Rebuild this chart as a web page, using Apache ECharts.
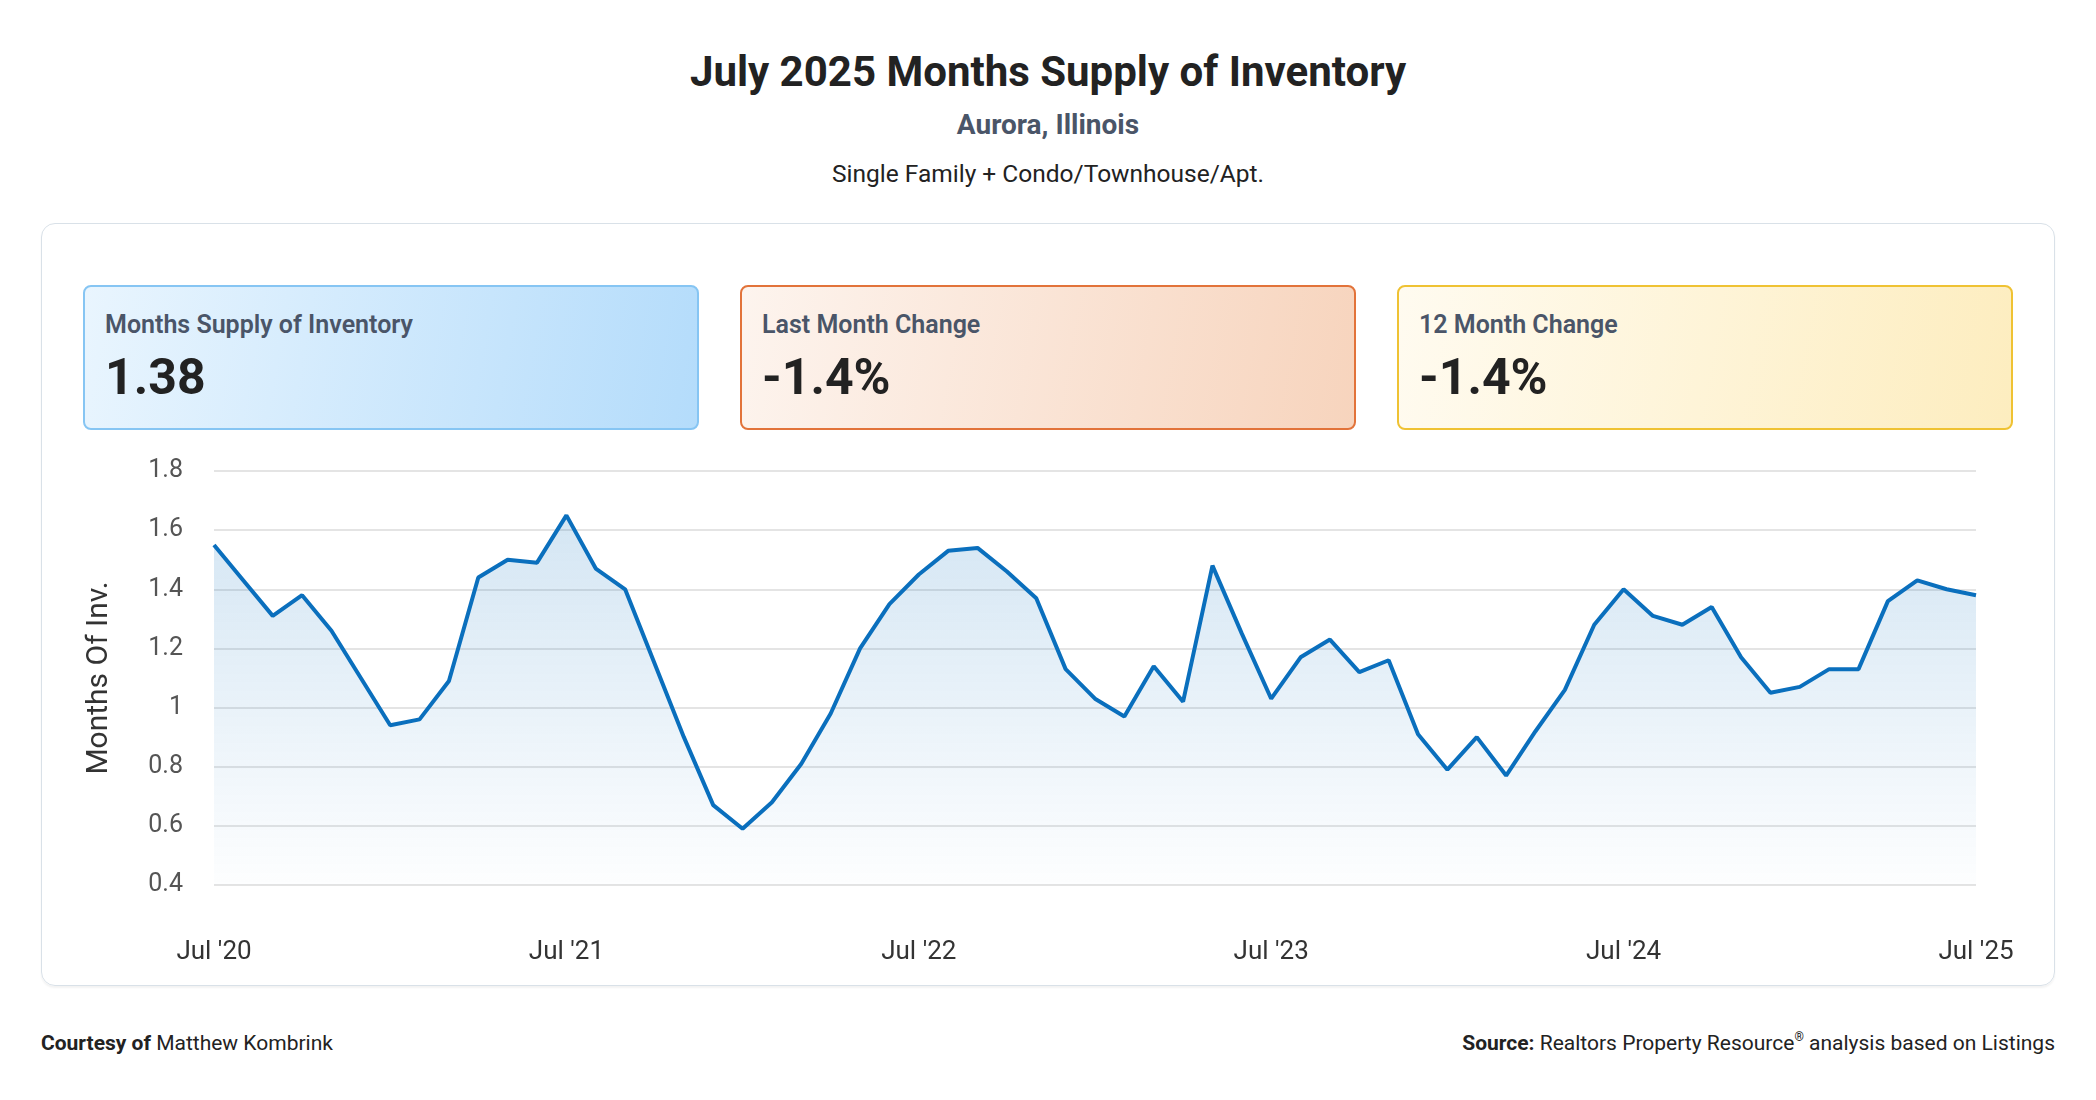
<!DOCTYPE html>
<html>
<head>
<meta charset="utf-8">
<title>July 2025 Months Supply of Inventory</title>
<script src="https://cdn.jsdelivr.net/npm/echarts@6/dist/echarts.min.js"></script>
<style>
  html, body { margin: 0; padding: 0; background: #fff; }
  body { width: 2096px; height: 1100px; position: relative; font-family: Roboto, "Noto Sans", sans-serif; color: #222; overflow: hidden; }
  .abs { position: absolute; }
  #title { left: 0; width: 2096px; top: 48px; text-align: center; font-size: 42px; font-weight: 700; color: #222; line-height: 48px; }
  #place { left: 0; width: 2096px; top: 108px; text-align: center; font-size: 28px; font-weight: 700; color: #4a5568; line-height: 34px; }
  #subtitle { left: 0; width: 2096px; top: 158px; text-align: center; font-size: 24.5px; color: #222; line-height: 32px; }
  #panel { left: 41px; top: 223px; width: 2012px; height: 761px; border: 1.5px solid #d9e1e8; border-radius: 14px; box-shadow: 0 2px 2px rgba(0,0,0,0.05); }
  .card { top: 285px; width: 612px; height: 141px; border-radius: 8px; border: 2px solid; box-sizing: content-box; }
  .card .lbl { position: absolute; left: 20px; top: 23px; font-size: 25px; font-weight: 600; color: #4a5568; }
  .card .val { position: absolute; left: 20px; top: 61px; font-size: 50px; font-weight: 700; color: #222; }
  #c1 { left: 83px; border-color: #86c5f3; background: linear-gradient(100deg, #e9f5fe 0%, #b4dcfb 100%); }
  #c2 { left: 740px; border-color: #e2733a; background: linear-gradient(100deg, #fdf4ee 0%, #f7d4bd 100%); }
  #c3 { left: 1397px; border-color: #efc233; background: linear-gradient(100deg, #fffbf0 0%, #fdedbf 100%); }
  #chart { left: 41px; top: 440px; width: 2014px; height: 540px; }
  .foot { top: 1029px; font-size: 21px; color: #222; line-height: 28px; }
  #courtesy { left: 41px; }
  #source { right: 41px; text-align: right; }
  sup { font-size: 12px; position: relative; top: -9px; vertical-align: baseline; line-height: 0; }
</style>
</head>
<body>
<div id="title" class="abs">July 2025 Months Supply of Inventory</div>
<div id="place" class="abs">Aurora, Illinois</div>
<div id="subtitle" class="abs">Single Family + Condo/Townhouse/Apt.</div>
<div id="panel" class="abs"></div>
<div id="c1" class="abs card"><div class="lbl">Months Supply of Inventory</div><div class="val">1.38</div></div>
<div id="c2" class="abs card"><div class="lbl">Last Month Change</div><div class="val">-1.4%</div></div>
<div id="c3" class="abs card"><div class="lbl">12 Month Change</div><div class="val">-1.4%</div></div>
<div id="chart" class="abs"></div>
<div id="courtesy" class="abs foot"><b>Courtesy of</b> Matthew Kombrink</div>
<div id="source" class="abs foot"><b>Source:</b> Realtors Property Resource<sup>®</sup> analysis based on Listings</div>
<script>
// months Jul '20 .. Jul '25
var months = [
  "Jul '20","Aug '20","Sep '20","Oct '20","Nov '20","Dec '20",
  "Jan '21","Feb '21","Mar '21","Apr '21","May '21","Jun '21",
  "Jul '21","Aug '21","Sep '21","Oct '21","Nov '21","Dec '21",
  "Jan '22","Feb '22","Mar '22","Apr '22","May '22","Jun '22",
  "Jul '22","Aug '22","Sep '22","Oct '22","Nov '22","Dec '22",
  "Jan '23","Feb '23","Mar '23","Apr '23","May '23","Jun '23",
  "Jul '23","Aug '23","Sep '23","Oct '23","Nov '23","Dec '23",
  "Jan '24","Feb '24","Mar '24","Apr '24","May '24","Jun '24",
  "Jul '24","Aug '24","Sep '24","Oct '24","Nov '24","Dec '24",
  "Jan '25","Feb '25","Mar '25","Apr '25","May '25","Jun '25",
  "Jul '25"
];
// months supply of inventory
var supply = [
  1.55, 1.43, 1.31, 1.38, 1.26, 1.10,
  0.94, 0.96, 1.09, 1.44, 1.50, 1.49,
  1.65, 1.47, 1.40, 1.15, 0.90, 0.67,
  0.59, 0.68, 0.81, 0.98, 1.20, 1.35,
  1.45, 1.53, 1.54, 1.46, 1.37, 1.13,
  1.03, 0.97, 1.14, 1.02, 1.48, 1.25,
  1.03, 1.17, 1.23, 1.12, 1.16, 0.91,
  0.79, 0.90, 0.77, 0.92, 1.06, 1.28,
  1.40, 1.31, 1.28, 1.34, 1.17, 1.05,
  1.07, 1.13, 1.13, 1.36, 1.43, 1.40,
  1.38
];
var yTicks = { min: 0.4, max: 1.8, step: 0.2 };

var chart = echarts.init(document.getElementById('chart'));
var options = {
  animation: false,
  grid: { left: 173, right: 79, top: 31, bottom: 95 },
  xAxis: {
    type: 'category',
    data: months,
    boundaryGap: false,
    axisLine: { show: false },
    axisTick: { show: false },
    axisLabel: {
      interval: 11,
      margin: 54,
      fontSize: 26,
      color: '#333',
      fontFamily: 'Roboto'
    }
  },
  yAxis: {
    type: 'value',
    min: yTicks.min,
    max: yTicks.max,
    interval: yTicks.step,
    name: 'Months Of Inv.',
    nameLocation: 'middle',
    nameRotate: 90,
    nameGap: 100,
    nameTextStyle: { fontSize: 30, color: '#333', fontFamily: 'Roboto' },
    axisLabel: { margin: 31, fontSize: 25, color: '#555', fontFamily: 'Roboto' },
    splitLine: { lineStyle: { color: '#e4e4e4', width: 2 } }
  },
  series: [{
    type: 'line',
    data: supply,
    symbol: 'none',
    lineStyle: { color: '#0a6fbd', width: 4 },
    areaStyle: {
      // top blue fading to white at bottom
      color: new echarts.graphic.LinearGradient(0, 0, 0, 1, [
        { offset: 0, color: 'rgba(10,111,189,0.25)' },
        { offset: 1, color: 'rgba(10,111,189,0.01)' }
      ])
    }
  }]
};
chart.setOption(options);
</script>
</body>
</html>
